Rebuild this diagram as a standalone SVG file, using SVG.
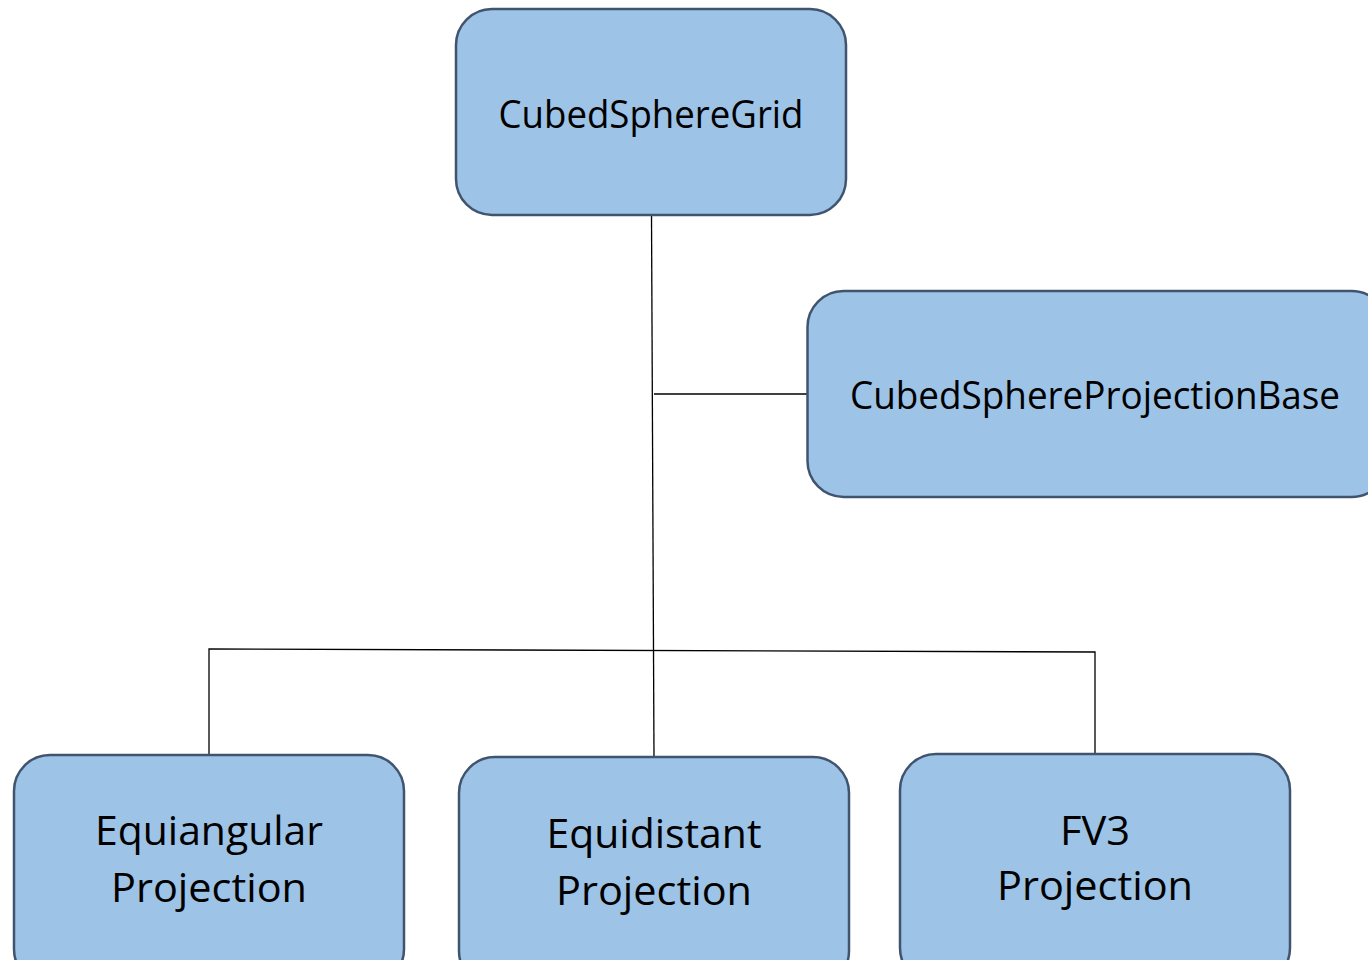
<svg xmlns="http://www.w3.org/2000/svg" width="1368" height="960" viewBox="0 0 1368 960">
  <style>
    .box { fill: #9dc3e6; stroke: #41546f; stroke-width: 2.5; }
    .label { font-family: "Open Sans", "Noto Sans", "Liberation Sans", sans-serif; font-size: 38px; fill: #000; text-anchor: middle; }
    .big { font-size: 40px; }
    .wire { fill: none; stroke: #000; stroke-width: 1.3; }
  </style>
  <rect width="1368" height="960" fill="#fff"/>

  <!-- connectors -->
  <g id="connectors">
    <line class="wire" x1="651.5" y1="215" x2="654" y2="757"/>
    <line class="wire" x1="654" y1="394" x2="807" y2="394" stroke="#555" stroke-width="1.6"/>
    <polyline class="wire" points="209,756 209,649 1095,652 1095,754"/>
  </g>

  <g id="node-grid">
    <rect class="box" x="456" y="9" width="390" height="206" rx="36"/>
    <text class="label" x="651" y="128" textLength="305" lengthAdjust="spacingAndGlyphs">CubedSphereGrid</text>
  </g>

  <g id="node-base">
    <rect class="box" x="807.5" y="291" width="580" height="206" rx="36"/>
    <text class="label" x="1095" y="409" textLength="490" lengthAdjust="spacingAndGlyphs">CubedSphereProjectionBase</text>
  </g>

  <g id="node-equiangular">
    <rect class="box" x="14" y="755" width="390" height="230" rx="36"/>
    <text class="label big" x="209" y="845" textLength="228" lengthAdjust="spacingAndGlyphs">Equiangular</text>
    <text class="label big" x="209" y="902" textLength="196" lengthAdjust="spacingAndGlyphs">Projection</text>
  </g>

  <g id="node-equidistant">
    <rect class="box" x="459" y="757" width="390" height="230" rx="36"/>
    <text class="label big" x="654" y="848" textLength="215" lengthAdjust="spacingAndGlyphs">Equidistant</text>
    <text class="label big" x="654" y="905" textLength="196" lengthAdjust="spacingAndGlyphs">Projection</text>
  </g>

  <g id="node-fv3">
    <rect class="box" x="900" y="754" width="390" height="230" rx="36"/>
    <text class="label big" x="1095" y="845" textLength="70" lengthAdjust="spacingAndGlyphs">FV3</text>
    <text class="label big" x="1095" y="900" textLength="196" lengthAdjust="spacingAndGlyphs">Projection</text>
  </g>
</svg>
